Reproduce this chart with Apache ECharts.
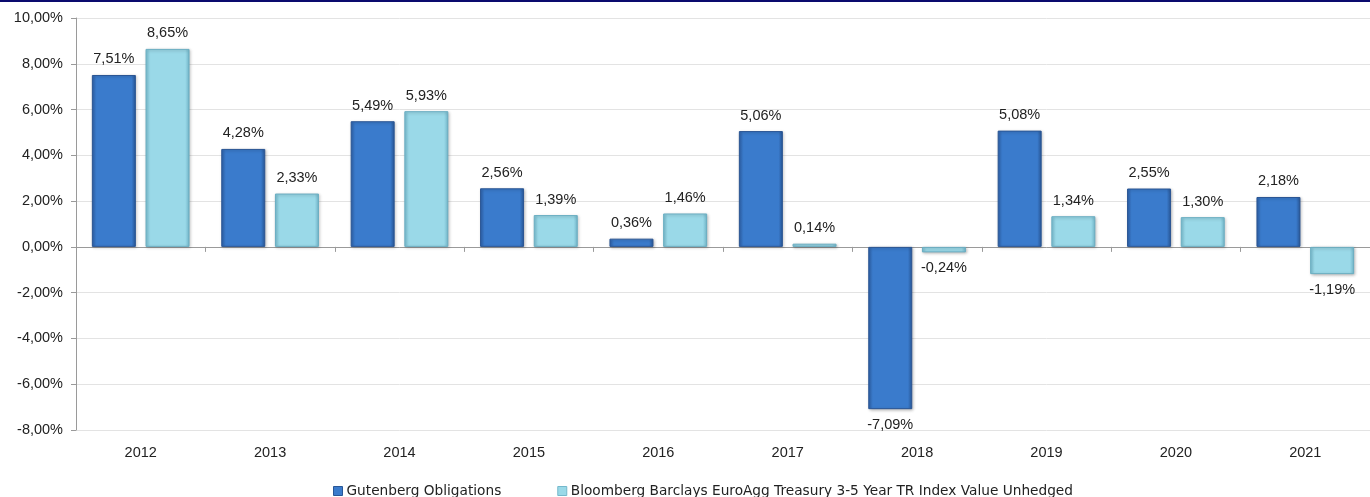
<!DOCTYPE html>
<html><head><meta charset="utf-8">
<script src="https://cdn.jsdelivr.net/npm/echarts@6/dist/echarts.min.js"></script>
<style>html,body{margin:0;padding:0;background:#fff}#c{width:1370px;height:497px}</style>
</head><body><div id="c"></div>
<script>
const categories = ['2012','2013','2014','2015','2016','2017','2018','2019','2020','2021'];
const seriesNames = ['Gutenberg Obligations','Bloomberg Barclays EuroAgg Treasury 3-5 Year TR Index Value Unhedged'];
const gutenberg = [7.51, 4.28, 5.49, 2.56, 0.36, 5.06, -7.09, 5.08, 2.55, 2.18];
const bloomberg = [8.65, 2.33, 5.93, 1.39, 1.46, 0.14, -0.24, 1.34, 1.30, -1.19];
const yTicks = [-8, -6, -4, -2, 0, 2, 4, 6, 8, 10];

const FONT = '"Liberation Sans", "DejaVu Sans", sans-serif';
const LFONT = '"DejaVu Sans", "Liberation Sans", sans-serif';
const fmt = v => v.toFixed(2).replace('.', ',') + '%';

function grad(c1, c2, c3) {
  return new echarts.graphic.LinearGradient(0, 0, 1, 0, [
    {offset: 0, color: c1}, {offset: 0.1, color: c2}, {offset: 0.9, color: c2}, {offset: 1, color: c3}
  ]);
}
const darkFill = grad('#2f63ad', '#3a7bcc', '#285696');
const lightFill = grad('#7cc3d6', '#9ad9e8', '#74b8cc');

function mkData(arr) {
  return arr.map(v => ({value: v, label: {position: v >= 0 ? 'top' : 'bottom'}}));
}

const chart = echarts.init(document.getElementById('c'), null, {renderer: 'canvas'});
chart.setOption({
  animation: false,
  backgroundColor: '#fff',
  graphic: [{type: 'rect', shape: {x: 0, y: 0, width: 1370, height: 2}, style: {fill: '#0a0a6e'}}],
  grid: {left: 76, right: -10, top: 18, bottom: 67, containLabel: false},
  legend: {
    top: 479, left: 328, itemWidth: 9, itemHeight: 9, itemGap: 56,
    textStyle: {fontFamily: LFONT, fontSize: 13.7, color: '#222', padding: [0, 0, 0, -1]},
    data: [
      {name: seriesNames[0], icon: 'rect', itemStyle: {color: '#3a7bcc', borderColor: '#285696', borderWidth: 1}},
      {name: seriesNames[1], icon: 'rect', itemStyle: {color: '#9ad9e8', borderColor: '#74b8cc', borderWidth: 1}}
    ]
  },
  xAxis: [{
    type: 'category', data: categories,
    axisLine: {onZero: true, lineStyle: {color: '#9a9a9a'}},
    axisTick: {show: true, length: 5, inside: false, lineStyle: {color: '#9a9a9a'}},
    axisLabel: {show: false}
  }, {
    type: 'category', data: categories, position: 'bottom',
    axisLine: {show: false, onZero: false}, axisTick: {show: false},
    axisLabel: {show: true, margin: 15, fontFamily: FONT, fontSize: 14.5, color: '#222'}
  }],
  yAxis: {
    type: 'value', min: -8, max: 10, interval: 2,
    axisLine: {show: true, lineStyle: {color: '#9a9a9a'}},
    axisTick: {show: true, length: 5, lineStyle: {color: '#9a9a9a'}},
    splitLine: {lineStyle: {color: '#e3e3e3'}},
    axisLabel: {fontFamily: FONT, fontSize: 14.5, color: '#222', margin: 13, formatter: v => fmt(v)}
  },
  series: [{
    name: seriesNames[0], type: 'bar', xAxisIndex: 0, data: mkData(gutenberg),
    barWidth: 44, barGap: '22%',
    itemStyle: {color: darkFill, borderColor: '#2a5593', borderWidth: 1,
      shadowColor: 'rgba(0,0,0,0.25)', shadowBlur: 3, shadowOffsetX: 1, shadowOffsetY: 1},
    label: {show: true, formatter: p => fmt(p.value), fontFamily: FONT, fontSize: 14.5, color: '#222', distance: 8}
  }, {
    name: seriesNames[1], type: 'bar', xAxisIndex: 0, data: mkData(bloomberg),
    barWidth: 44,
    itemStyle: {color: lightFill, borderColor: '#6aaec2', borderWidth: 1,
      shadowColor: 'rgba(0,0,0,0.25)', shadowBlur: 3, shadowOffsetX: 1, shadowOffsetY: 1},
    label: {show: true, formatter: p => fmt(p.value), fontFamily: FONT, fontSize: 14.5, color: '#222', distance: 8}
  }]
});
</script></body></html>
